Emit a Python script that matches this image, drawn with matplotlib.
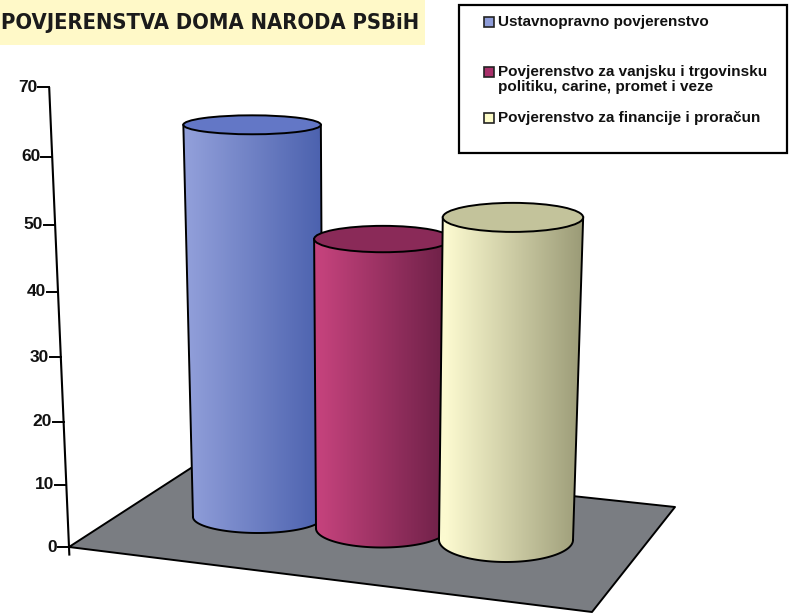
import numpy as np
import matplotlib
matplotlib.use("Agg")
import matplotlib.pyplot as plt
from matplotlib.patches import Polygon, Rectangle, Ellipse
from matplotlib import font_manager as fm
from matplotlib.colors import to_rgb

# ---------------- data ----------------
title = "POVJERENSTVA DOMA NARODA PSBiH"
categories = [
    "Ustavnopravno povjerenstvo",
    "Povjerenstvo za vanjsku i trgovinsku\npolitiku, carine, promet i veze",
    "Povjerenstvo za financije i proračun",
]
values = [60, 45, 50]
y_ticks = [0, 10, 20, 30, 40, 50, 60, 70]

# ---------------- styles ----------------
body_light = ["#909ed9", "#c4427c", "#fcfad0"]
body_dark = ["#4b61ae", "#6a1f45", "#9a9a76"]
top_colors = ["#6377c6", "#8a2a58", "#c3c39b"]
legend_colors = ["#8e9cd8", "#a8306a", "#fdfcc8"]
floor_color = "#7a7d82"
title_bg = "#fff9c8"

W, H = 789, 614
fig = plt.figure(figsize=(W / 100, H / 100), dpi=100)
ax = fig.add_axes([0, 0, 1, 1])
ax.set_xlim(0, W)
ax.set_ylim(H, 0)
ax.axis("off")

# perspective: vanishing point of verticals and depth factor
VP = np.array([360.0, 7300.0])
PERSP = 0.000911


def lift(base, val):
    s = 1.0 / (1.0 - PERSP * val)
    return VP + (np.asarray(base, float) - VP) * s, s


# ---------------- floor ----------------
axis_base = np.array([69.0, 547.0])
floor_pts = [axis_base, (592, 612), (675, 507), (208, 457)]
ax.add_patch(Polygon(floor_pts, closed=True, facecolor=floor_color,
                     edgecolor="black", lw=1.4, zorder=1, joinstyle="round"))

# ---------------- value axis ----------------
top_pt, _ = lift(axis_base, max(y_ticks))
bot_pt, _ = lift(axis_base, -1.4)
ax.plot([top_pt[0], bot_pt[0]], [top_pt[1], bot_pt[1]], color="black",
        lw=1.5, zorder=2, solid_capstyle="butt")
for t in y_ticks:
    p, _ = lift(axis_base, t)
    ax.plot([p[0] - 11, p[0]], [p[1], p[1]], color="black", lw=1.4, zorder=2)
    ax.text(p[0] - 12, p[1], str(t), ha="right", va="center",
            fontsize=12.5, fontweight="bold", family="Liberation Sans",
            color="#111111", zorder=2)

# ---------------- cylinders ----------------
n = 80
for i, v in enumerate(values):
    base = np.array([258 + 124 * i, 517 + 11.5 * i])
    brx = 65 + i
    bry = 16 + 3 * i
    top, s = lift(base, v)
    trx = brx * s
    tr_y = bry * (1 - 0.0068 * v)

    th_b = np.linspace(np.pi, 0, n)
    bottom_arc = np.column_stack([base[0] + brx * np.cos(th_b),
                                  base[1] + bry * np.sin(th_b)])
    th_t = np.linspace(0, np.pi, n)
    top_arc = np.column_stack([top[0] + trx * np.cos(th_t),
                               top[1] + tr_y * np.sin(th_t)])
    verts = np.vstack([[top[0] - trx, top[1]], bottom_arc, top_arc])
    body = Polygon(verts, closed=True, facecolor="none", edgecolor="none",
                   zorder=3 + 3 * i)
    ax.add_patch(body)

    x0 = min(top[0] - trx, base[0] - brx)
    x1 = max(top[0] + trx, base[0] + brx)
    g = np.linspace(0, 1, 256)
    shade = np.clip(g * 1.05 - 0.05, 0, 1)
    c0 = np.array(to_rgb(body_light[i]))
    c1 = np.array(to_rgb(body_dark[i]))
    img = c0[None, :] * (1 - shade[:, None]) + c1[None, :] * shade[:, None]
    im = ax.imshow(img[None, :, :], extent=(x0, x1, base[1] + bry + 2, top[1] - 2),
                   aspect="auto", zorder=3 + 3 * i, interpolation="bilinear")
    im.set_clip_path(body)

    ax.plot([top[0] - trx, base[0] - brx], [top[1], base[1]], color="black",
            lw=1.4, zorder=4 + 3 * i)
    ax.plot([top[0] + trx, base[0] + brx], [top[1], base[1]], color="black",
            lw=1.4, zorder=4 + 3 * i)
    ax.plot(bottom_arc[:, 0], bottom_arc[:, 1], color="black", lw=1.4,
            zorder=4 + 3 * i)
    ax.add_patch(Ellipse(top, 2 * trx, 2 * tr_y, facecolor=top_colors[i],
                         edgecolor="black", lw=1.4, zorder=5 + 3 * i))

# ---------------- legend ----------------
ax.add_patch(Rectangle((459, 5), 328, 148, facecolor="white",
                       edgecolor="black", lw=1.6, zorder=20))
legend_y = [22, 72, 118]
for i, lab in enumerate(categories):
    y = legend_y[i]
    ax.add_patch(Rectangle((484, y - 5), 10, 10, facecolor=legend_colors[i],
                           edgecolor="#222222", lw=1.2, zorder=21))
    for j, line in enumerate(lab.split("\n")):
        ax.text(498, y + 15 * j, line, ha="left", va="center", fontsize=11,
                fontweight="bold", family="Liberation Sans", color="#111111",
                zorder=21)

# ---------------- title ----------------
ax.add_patch(Rectangle((0, 0), 425, 45, facecolor=title_bg, edgecolor="none",
                       zorder=20))


def condensed_font():
    for f in fm.fontManager.ttflist:
        low = f.fname.lower()
        if ("condensed" in low or "narrow" in low) and "bold" in low \
                and "oblique" not in low and "italic" not in low:
            return fm.FontProperties(fname=f.fname)
    return fm.FontProperties(family="Roboto", weight="bold")


fp = condensed_font()
fp.set_size(20)
tt = ax.text(1, 23, title, ha="left", va="center", fontproperties=fp,
             color="#1b1b1b", zorder=21)
renderer = fig.canvas.get_renderer()
w = tt.get_window_extent(renderer).width
fp.set_size(20 * 419 / w)
tt.set_fontproperties(fp)

ax.set_xlim(0, W)
ax.set_ylim(H, 0)
fig.savefig("out.png", dpi=100)
